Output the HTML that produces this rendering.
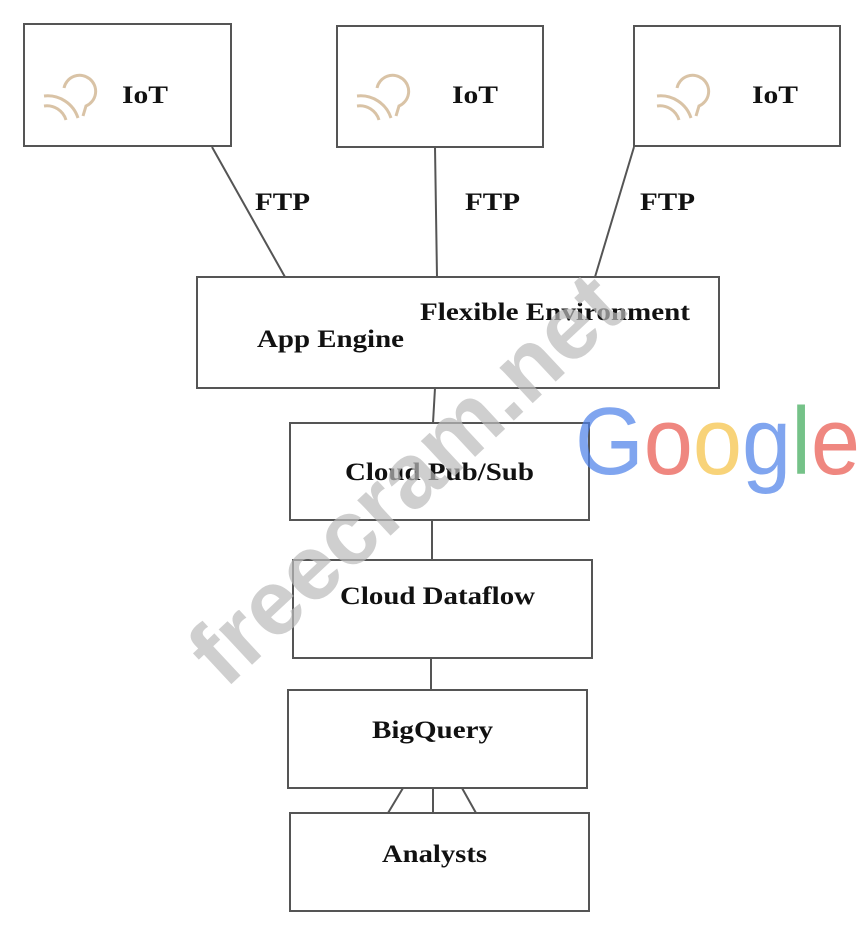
<!DOCTYPE html>
<html><head><style>html,body{margin:0;padding:0;background:#fff}</style></head><body>
<svg width="864" height="935" viewBox="0 0 864 935" xmlns="http://www.w3.org/2000/svg" font-family="Liberation Serif, serif" font-weight="bold">
<rect width="864" height="935" fill="#fff"/>
<g fill="none" stroke="#555" stroke-width="2">
<rect x="24" y="24" width="207" height="122"/>
<rect x="337" y="26" width="206" height="121"/>
<rect x="634" y="26" width="206" height="120"/>
<rect x="197" y="277" width="522" height="111"/>
<rect x="290" y="423" width="299" height="97"/>
<rect x="293" y="560" width="299" height="98"/>
<rect x="288" y="690" width="299" height="98"/>
<rect x="290" y="813" width="299" height="98"/>
<path d="M212 147L285 277M435 147L437 277M634 147L595 277M435 388L433 423M432 520L432 560M431 658L431 690M403 788L388 813M433 788L433 813M462 788L476 813"/>
</g>
<g fill="none" stroke="#d9c3a6" stroke-width="3">
<path d="M64 88 a16 16 0 1 1 22 18 l-3 10"/><path d="M44 96 a32 32 0 0 1 34 22"/><path d="M44 106 a20 20 0 0 1 22 14"/>
<path d="M377 88 a16 16 0 1 1 22 18 l-3 10"/><path d="M357 96 a32 32 0 0 1 34 22"/><path d="M357 106 a20 20 0 0 1 22 14"/>
<path d="M677 88 a16 16 0 1 1 22 18 l-3 10"/><path d="M657 96 a32 32 0 0 1 34 22"/><path d="M657 106 a20 20 0 0 1 22 14"/>
</g>
<g fill="#111" font-size="25" lengthAdjust="spacingAndGlyphs">
<text x="122" y="103" textLength="46" lengthAdjust="spacingAndGlyphs">IoT</text>
<text x="452" y="103" textLength="46" lengthAdjust="spacingAndGlyphs">IoT</text>
<text x="752" y="103" textLength="46" lengthAdjust="spacingAndGlyphs">IoT</text>
<text x="255" y="210" textLength="55" lengthAdjust="spacingAndGlyphs">FTP</text>
<text x="465" y="210" textLength="55" lengthAdjust="spacingAndGlyphs">FTP</text>
<text x="640" y="210" textLength="55" lengthAdjust="spacingAndGlyphs">FTP</text>
<text x="420" y="320" textLength="270" lengthAdjust="spacingAndGlyphs">Flexible Environment</text>
<text x="257" y="347" textLength="147" lengthAdjust="spacingAndGlyphs">App Engine</text>
<text x="345" y="480" textLength="189" lengthAdjust="spacingAndGlyphs">Cloud Pub/Sub</text>
<text x="340" y="604" textLength="195" lengthAdjust="spacingAndGlyphs">Cloud Dataflow</text>
<text x="372" y="738" textLength="121" lengthAdjust="spacingAndGlyphs">BigQuery</text>
<text x="382" y="862" textLength="105" lengthAdjust="spacingAndGlyphs">Analysts</text>
</g>
<text x="0" y="0" transform="translate(225,690) rotate(-43)" font-family="Liberation Sans, sans-serif" font-size="92" fill="#bbb" fill-opacity="0.7">freecram.net</text>
<text x="575" y="474" font-family="Liberation Sans, sans-serif" font-weight="normal" font-size="96" fill-opacity="0.7" textLength="285" lengthAdjust="spacingAndGlyphs"><tspan fill="#4a7fe8">G</tspan><tspan fill="#e8544a">o</tspan><tspan fill="#f5c040">o</tspan><tspan fill="#4a7fe8">g</tspan><tspan fill="#3aa855">l</tspan><tspan fill="#e8544a">e</tspan></text>
</svg>
</body></html>
